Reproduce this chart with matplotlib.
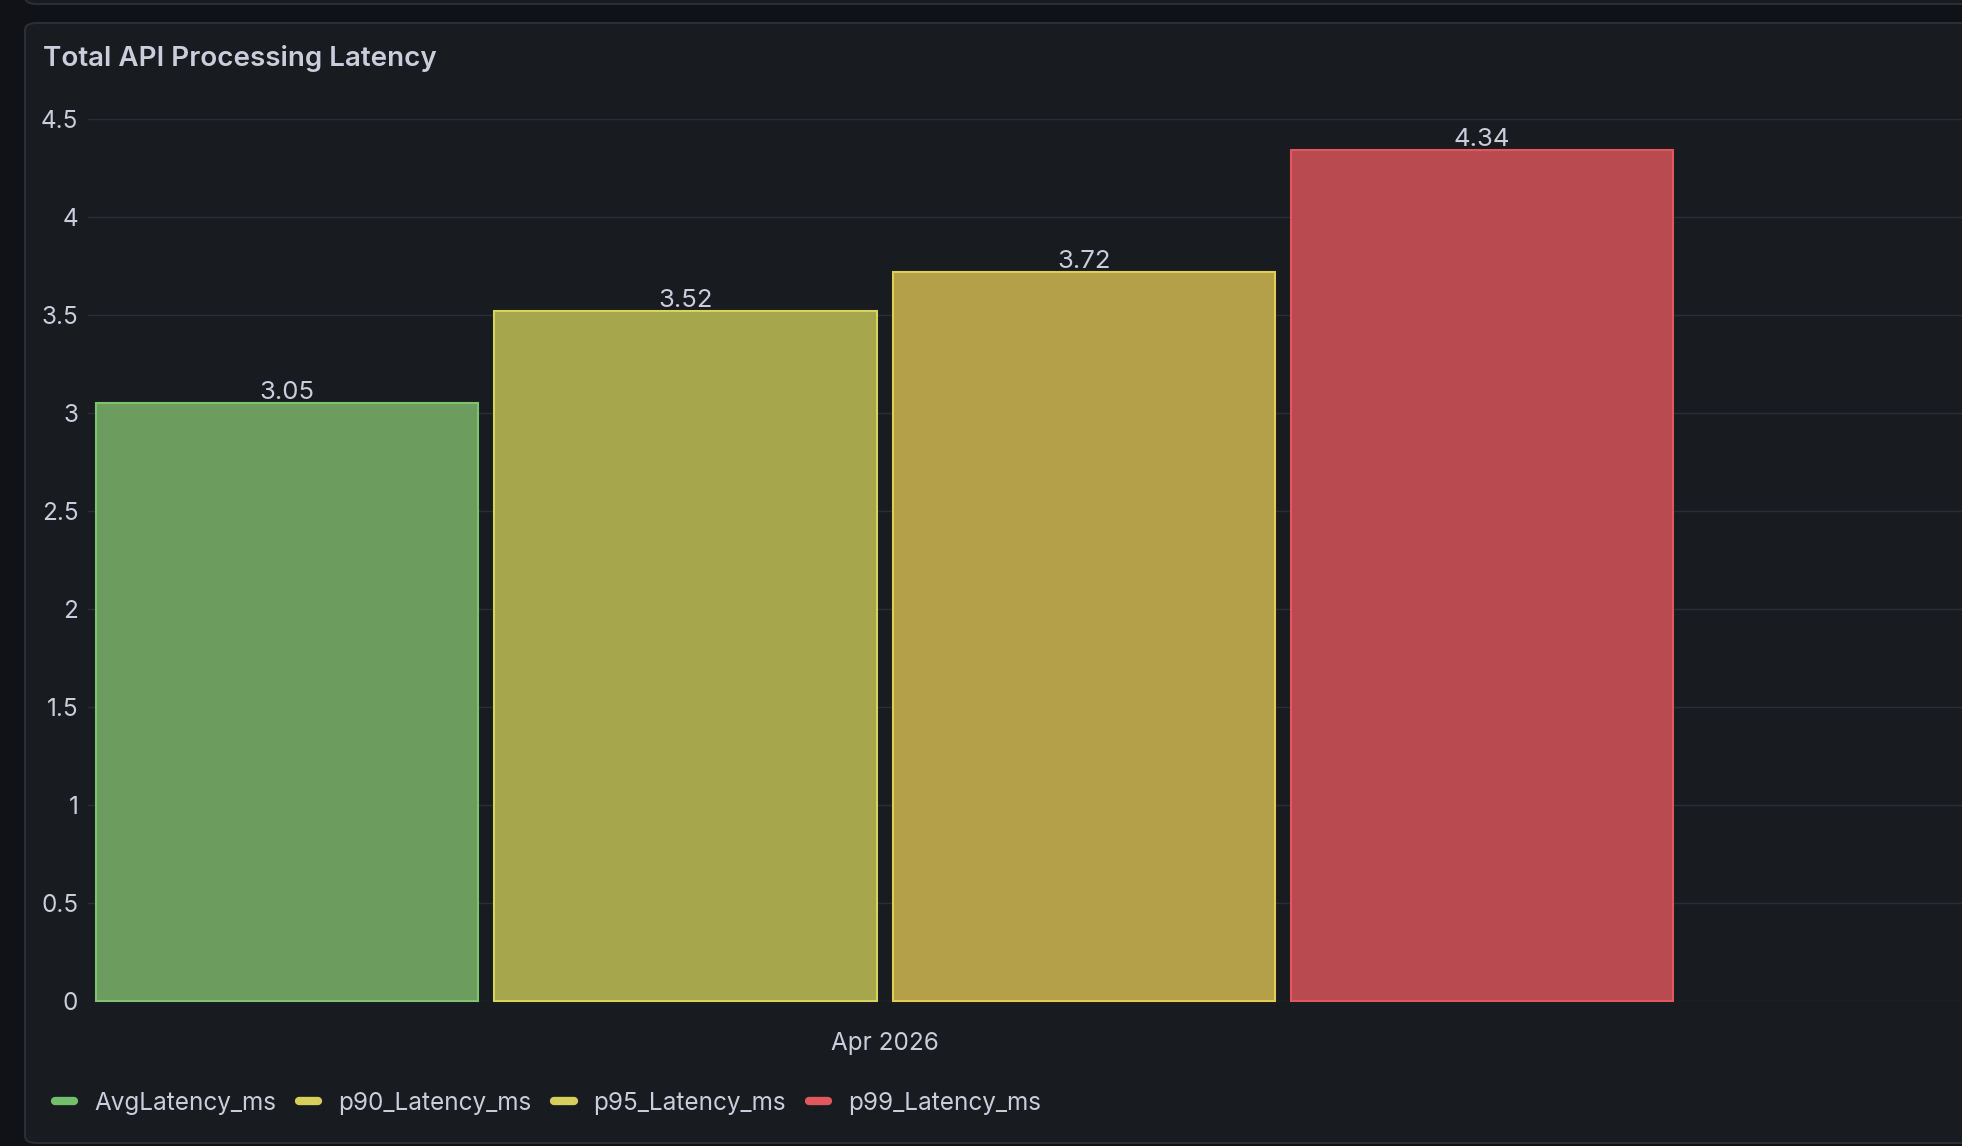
import matplotlib.pyplot as plt
from matplotlib.patches import FancyBboxPatch
from matplotlib.lines import Line2D

# data
series = ['AvgLatency_ms', 'p90_Latency_ms', 'p95_Latency_ms', 'p99_Latency_ms']
values = [3.05, 3.52, 3.72, 4.34]
group_label = 'Apr 2026'
yticks = [0, 0.5, 1, 1.5, 2, 2.5, 3, 3.5, 4, 4.5]
ytick_labels = ['0', '0.5', '1', '1.5', '2', '2.5', '3', '3.5', '4', '4.5']

fills = ['#6d9d5e', '#a6a64c', '#b5a04a', '#b94b50']
edges = ['#7cc46f', '#d8d35c', '#e2cc52', '#e0585e']
swatch = ['#73bf69', '#d6cf5b', '#d6cf5b', '#e0575c']

W, H = 1962, 1146
text_col = '#ccccdc'
plt.rcParams['font.family'] = ['Inter', 'DejaVu Sans']

fig = plt.figure(figsize=(W / 100, H / 100), dpi=100)
fig.patch.set_facecolor('#111217')

# panel backgrounds (bottom of previous panel + this one)
prev = FancyBboxPatch((25 / W, 1 - 4 / H), 2.0, 0.2, boxstyle='round,pad=0,rounding_size=0.006',
                      transform=fig.transFigure, facecolor='#181b1f', edgecolor='#2b2e34',
                      linewidth=1.5, zorder=-10)
fig.patches.append(prev)
panel = FancyBboxPatch((25 / W, 1 - 1143 / H), 2.0, (1143 - 23) / H,
                       boxstyle='round,pad=0,rounding_size=0.006',
                       transform=fig.transFigure, facecolor='#181b1f', edgecolor='#2b2e34',
                       linewidth=1.5, zorder=-10)
fig.patches.append(panel)

fig.text(43 / W, 1 - 58 / H, 'Total API Processing Latency', color=text_col,
         fontsize=20, fontweight='semibold', va='center', ha='left')

ax_l, ax_r, ax_t, ax_b = 88, W, 119, 1001
ax = fig.add_axes([ax_l / W, 1 - ax_b / H, (ax_r - ax_l) / W, (ax_b - ax_t) / H])
ax.set_facecolor('none')
ax.set_zorder(5)

x = list(range(len(values)))
bars = ax.bar(x, values, width=0.96, color=fills, edgecolor=edges, linewidth=1.5,
              clip_on=False, zorder=3)
for xi, v in zip(x, values):
    ax.text(xi, v - 0.005, f'{v:.2f}', ha='center', va='bottom', color=text_col,
            fontsize=18.5, zorder=4)

ax.set_xlim(-0.5, 4.205)
ax.set_ylim(0, 4.5)
ax.set_yticks(yticks)
ax.set_yticklabels(ytick_labels)
ax.set_xticks([(len(values) - 1) / 2])
ax.set_xticklabels([group_label])
ax.tick_params(axis='y', length=0, pad=7, labelsize=17.5, labelcolor=text_col)
ax.tick_params(axis='x', length=0, pad=22, labelsize=17.5, labelcolor=text_col)
ax.grid(axis='y', color='#2a2d33', linewidth=1)
ax.set_axisbelow(True)
for s in ax.spines.values():
    s.set_visible(False)

handles = [Line2D([0], [0], color=c, linewidth=6, solid_capstyle='round') for c in swatch]
leg = fig.legend(handles, series, loc='center left', bbox_to_anchor=(55 / W, 1 - 1103.5 / H),
                 ncol=4, frameon=False, fontsize=17.5, handlelength=0.8, handletextpad=0.8,
                 columnspacing=0.95, borderaxespad=0, borderpad=0)
for t in leg.get_texts():
    t.set_color(text_col)

fig.savefig('out.png', dpi=100, facecolor=fig.get_facecolor())
